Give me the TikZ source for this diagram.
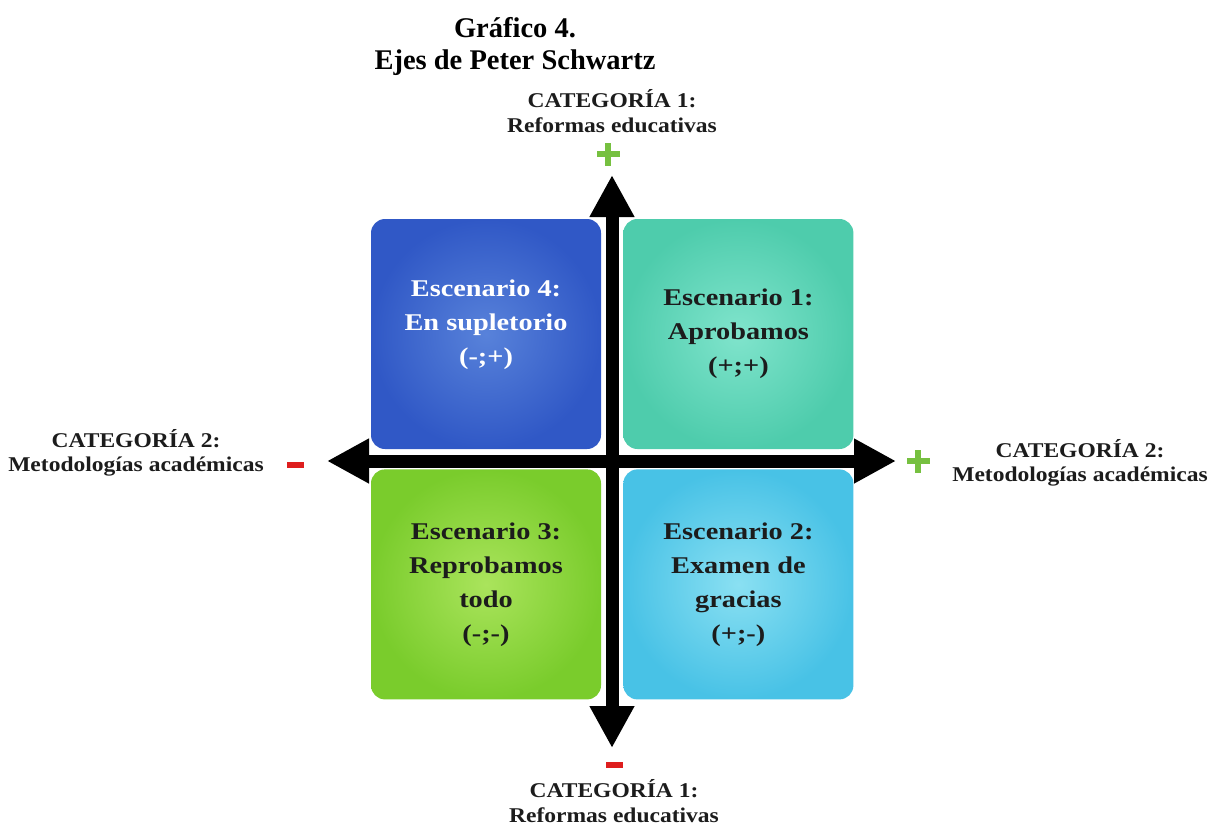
\documentclass[tikz,border=0pt]{standalone}
\usepackage{fontspec}
\setmainfont{Liberation Serif}
\newfontfamily\chartfont[FakeStretch=1.18]{Liberation Serif}
\newfontfamily\catfont[FakeStretch=1.12]{Liberation Serif}
\usetikzlibrary{arrows.meta,positioning}

\definecolor{blueout}{RGB}{48,88,198}
\definecolor{bluein}{RGB}{88,130,218}
\definecolor{tealout}{RGB}{78,204,172}
\definecolor{tealin}{RGB}{128,228,204}
\definecolor{greenout}{RGB}{122,204,44}
\definecolor{greenin}{RGB}{170,228,92}
\definecolor{cyanout}{RGB}{72,194,230}
\definecolor{cyanin}{RGB}{138,224,242}
\definecolor{signgreen}{RGB}{118,192,64}
\definecolor{signred}{RGB}{222,30,30}
\definecolor{inkdark}{RGB}{28,28,28}

\newcommand{\plusmark}{\rlap{\rule[-3pt]{23pt}{6pt}}\hspace*{8.5pt}\rule[-11.5pt]{6pt}{23pt}\hspace*{8.5pt}}
\newcommand{\minusmark}{\rule[-3pt]{17pt}{6pt}}

\begin{document}
\begin{tikzpicture}[
    x=1pt, y=1pt,
    scene/.style={rectangle, rounded corners=14pt, minimum width=230pt, minimum height=230pt, align=center, text=inkdark, shading=radial, font=\chartfont\bfseries\fontsize{24}{34}\selectfont},
    category/.style={align=center, text=inkdark, font=\catfont\bfseries\fontsize{21}{24.5}\selectfont},
    axis/.style={line width=13pt, >={Triangle[length=42pt,width=42pt]}, <->},
    plussign/.style={inner sep=0pt, text=signgreen},
    minussign/.style={inner sep=0pt, text=signred},
    title/.style={align=center, font=\bfseries\fontsize{28.5}{32}\selectfont}
]

\path[fill=white] (0,0) rectangle (1211,-828);
\useasboundingbox (0,0) rectangle (1211,-828);

% Title
\node[title] (title) at (515,-46) {Gráfico 4.\\Ejes de Peter Schwartz};

% Scenarios
\node[scene, inner color=bluein, outer color=blueout, text=white] (esc4) at (486,-334) {Escenario 4:\\En supletorio\\(-;+)\\[-10pt]};
\node[scene, inner color=tealin, outer color=tealout, right=22pt of esc4] (esc1) {Escenario 1:\\Aprobamos\\(+;+)};
\node[scene, inner color=greenin, outer color=greenout, below=20pt of esc4] (esc3) {Escenario 3:\\Reprobamos\\todo\\(-;-)};
\node[scene, inner color=cyanin, outer color=cyanout, below=20pt of esc1] (esc2) {Escenario 2:\\Examen de\\gracias\\(+;-)};

% Axes
\coordinate (ytop) at (612,-175);
\coordinate (ybot) at (612,-748);
\coordinate (xleft) at (327,-461);
\coordinate (xright) at (896,-461);
\draw[axis] (xleft) -- (xright);
\draw[axis] (ybot) -- (ytop);

% Signs
\node[plussign] (plustop) at (608,-154) {\plusmark};
\node[minussign] (minusbot) at (614,-765) {\minusmark};
\node[minussign] (minusleft) at (295,-465) {\minusmark};
\node[plussign] (plusright) at (918,-461) {\plusmark};

% Categories
\node[category] (cat1top) at (612,-111) {CATEGORÍA 1:\\Reformas educativas};
\node[category] (cat1bot) at (614,-801) {CATEGORÍA 1:\\Reformas educativas};
\node[category] (cat2left) at (136,-453) {CATEGORÍA 2:\\Metodologías académicas};
\node[category] (cat2right) at (1080,-463) {CATEGORÍA 2:\\Metodologías académicas};

\end{tikzpicture}
\end{document}
